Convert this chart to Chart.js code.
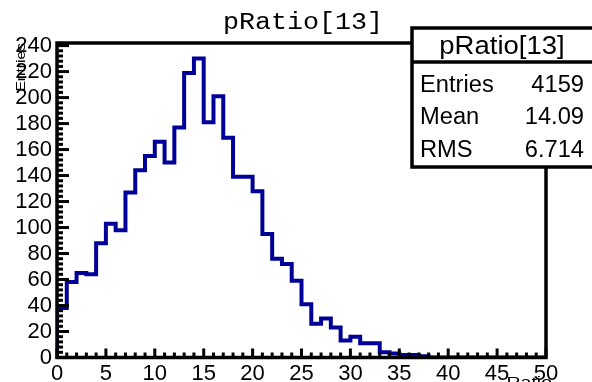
<!DOCTYPE html>
<html><head><meta charset="utf-8">
<script src="https://cdn.jsdelivr.net/npm/chart.js@4"></script>
<style>html,body{margin:0;padding:0;background:#fff;overflow:hidden}#wrap{width:592px;height:382px;position:relative}</style>
</head><body><div id="wrap"><canvas id="c" width="592" height="382"></canvas></div>
<script>
// ---- data ----
const chartTitle = 'pRatio[13]';
const binEdges = [0,1,2,3,4,5,6,7,8,9,10,11,12,13,14,15,16,17,18,19,20,21,22,23,24,25,26,27,28,29,30,31,32,33,34,35,36,37,38,39,40,41,42,43,44,45,46,47,48,49,50];
const counts = [38,58,65,64,88,103,98,127,144,155,
                166,150,177,219,230,181,201,169,139,139,
                128,95,76,72,59,41,26,30,23,13,
                16,11,11,4,3,2,2,1,0,0,
                0,0,0,0,0,0,0,0,0,0];
const xTickValues = [0,5,10,15,20,25,30,35,40,45,50];
const yTickValues = [0,20,40,60,80,100,120,140,160,180,200,220,240];
const statsLabels = ['Entries','Mean','RMS'];
const statsValues = ['4159','14.09','6.714'];
const xAxisTitle = 'Ratio';
const yAxisTitle = 'Entries';

// stepped histogram outline built from the bins
const histPoints = [{x: binEdges[0], y: 0}];
counts.forEach((v, i) => histPoints.push({x: binEdges[i], y: v}));
histPoints.push({x: binEdges[binEdges.length - 1], y: counts[counts.length - 1]});

function drawText(ctx, text, x, y, font, align, sx, rot) {
  ctx.save();
  ctx.translate(x, y);
  if (rot) ctx.rotate(rot);
  ctx.scale(sx, 1);
  ctx.font = font;
  ctx.textAlign = align;
  ctx.textBaseline = 'alphabetic';
  ctx.fillStyle = '#000';
  ctx.fillText(text, 0, 0);
  ctx.restore();
}

const framePlugin = {
  id: 'rootFrame',
  afterDraw(chart) {
    const ctx = chart.ctx, a = chart.chartArea;
    const xs = chart.scales.x, ys = chart.scales.y;
    ctx.save();
    ctx.strokeStyle = '#000';
    ctx.lineCap = 'butt';
    // ticks on bottom axis
    ctx.lineWidth = 3;
    for (let v = xs.min; v <= xs.max + 1e-9; v += 1) {
      const px = xs.getPixelForValue(v);
      const len = (v % 5 === 0) ? 9 : 5;
      ctx.beginPath(); ctx.moveTo(px, a.bottom); ctx.lineTo(px, a.bottom - len); ctx.stroke();
    }
    // ticks on left axis
    for (let v = 0; v <= ys.max + 1e-9; v += 4) {
      const py = ys.getPixelForValue(v);
      const len = (v % 20 === 0) ? 12 : 6;
      ctx.beginPath(); ctx.moveTo(a.left, py); ctx.lineTo(a.left + len, py); ctx.stroke();
    }
    // frame
    ctx.lineWidth = 3.5;
    ctx.strokeRect(a.left, a.top, a.right - a.left, a.bottom - a.top);
    // stats box
    const bx = 412, by = 28, bw = 200, bh = 139, hy = 62;
    ctx.fillStyle = '#fff';
    ctx.fillRect(bx, by, bw, bh);
    ctx.lineWidth = 3.5;
    ctx.strokeRect(bx, by, bw, bh);
    ctx.beginPath(); ctx.moveTo(bx, hy); ctx.lineTo(bx + bw, hy); ctx.stroke();
    ctx.restore();

    drawText(ctx, chartTitle, 502, 54, '25px "Liberation Sans"', 'center', 1.1);
    const base = [91.5, 124, 157];
    statsLabels.forEach((s, i) => drawText(ctx, s, 420, base[i], '23px "Liberation Sans"', 'left', 1.03));
    statsValues.forEach((s, i) => drawText(ctx, s, 584, base[i], '23px "Liberation Sans"', 'right', 1.03));

    // main title
    drawText(ctx, chartTitle, 303, 29, '23px "Liberation Mono"', 'center', 1.16);
    // axis titles
    drawText(ctx, xAxisTitle, 552, 387, '15px "Liberation Sans"', 'right', 1.3);
    drawText(ctx, yAxisTitle, 25, 43, '12px "Liberation Sans"', 'right', 1.3, -Math.PI / 2);
  }
};

new Chart(document.getElementById('c'), {
  type: 'line',
  data: {
    datasets: [{
      data: histPoints,
      stepped: 'before',
      borderColor: '#000099',
      borderWidth: 4,
      pointRadius: 0,
      fill: false,
      tension: 0
    }]
  },
  options: {
    responsive: false,
    animation: false,
    devicePixelRatio: 1,
    layout: { padding: { top: 43, right: 46, left: 0, bottom: 0 } },
    plugins: { legend: { display: false }, title: { display: false }, tooltip: { enabled: false } },
    scales: {
      x: {
        type: 'linear', min: 0, max: 50,
        afterFit(s) { s.height = 24.5; },
        afterBuildTicks(s) { s.ticks = xTickValues.map(v => ({ value: v })); },
        grid: { display: false, drawTicks: false },
        border: { display: false },
        ticks: { font: { family: 'Liberation Sans', size: 22 }, color: '#000', padding: 3, maxRotation: 0, autoSkip: false }
      },
      y: {
        type: 'linear', min: 0, max: 242,
        afterFit(s) { s.width = 57; },
        afterBuildTicks(s) { s.ticks = yTickValues.map(v => ({ value: v })); },
        grid: { display: false, drawTicks: false },
        border: { display: false },
        ticks: { font: { family: 'Liberation Sans', size: 22 }, color: '#000', padding: 5, autoSkip: false }
      }
    }
  },
  plugins: [framePlugin]
});
</script>
</body></html>
